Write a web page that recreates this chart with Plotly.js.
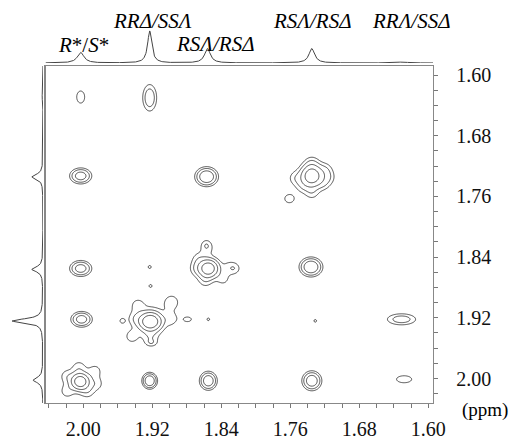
<!DOCTYPE html>
<html><head><meta charset="utf-8">
<script src="https://cdn.plot.ly/plotly-3.0.1.min.js"></script>
<style>html,body{margin:0;padding:0;background:#fff}#chart{width:513px;height:439px}</style>
</head><body><div id="chart"></div>
<script>
// ---- 2D cross-peak list (F2 ppm, F1 ppm, amplitude, width F2, width F1) ----
const pkF2 = [2.003,1.923, 2.003,1.857,1.735,1.735, 1.735,1.7193,1.7159,1.722,1.735,1.7454,1.7541, 1.761,
  2.003,1.923,1.855,1.855, 1.8567,1.8298,1.8376,1.8689,1.8585,1.8663,1.8573,1.8237, 1.736,
  2.002,1.9223,1.9223, 1.8975,1.8979,1.944,1.9397,1.9371,1.9223, 1.955,1.879,1.922,1.921,1.855, 1.731,1.631,
  2.0035,2.0035, 1.9861,1.9844,2.0192,2.0052,2.0192,1.9948, 1.923,1.855,1.735,1.628];
const pkF1 = [1.629,1.630, 1.733,1.734,1.733,1.733, 1.7162,1.7251,1.735,1.7429,1.7548,1.7459,1.736, 1.763,
  1.855,1.853,1.855,1.855, 1.8283,1.854,1.8689,1.855,1.8708,1.8421,1.8233,1.855, 1.853,
  1.922,1.925,1.925, 1.8995,1.921,1.9448,1.921,1.9032,1.9458, 1.924,1.922,1.878,1.953,1.922, 1.924,1.922,
  2.004,2.004, 1.9901,2.007,2.0169,1.9852,1.9971,2.0169, 2.003,2.003,2.003,2.001];
const pkAmp = [1.5,3.5, 6,8,12,1.5, 1.3,1.4,1.35,1.2,1.35,1.2,1.35, 1.4,
  6,1.1,12,1.5, 1.25,1.3,1.15,1.2,1.2,1.1,1.1,1.1, 8,
  6,14,1.7, 1.6,1.3,1.35,1.25,1.25,1.25, 1.15,1.3,1.1,1.15,1.1, 1.1,3,
  12,1.6, 1.35,1.3,1.35,1.25,1.3,1.25, 8,7,7,1.5];
const pkWF2 = [0.0051,0.0051, 0.0068,0.0068,0.0070,0.0116, 0.0058,0.0058,0.0058,0.0058,0.0058,0.0058,0.0058, 0.0064,
  0.0068,0.0040,0.0064,0.0116, 0.0058,0.0058,0.0058,0.0058,0.0058,0.0058,0.0040,0.0046, 0.0068,
  0.0066,0.0070,0.0139, 0.0068,0.0058,0.0058,0.0058,0.0058,0.0058, 0.0035,0.0058,0.0035,0.0046,0.0035, 0.0035,0.0110,
  0.0058,0.0104, 0.0058,0.0058,0.0058,0.0058,0.0058,0.0058, 0.0045,0.0053,0.0059,0.0097];
const pkWF1 = [0.0088,0.0110, 0.0056,0.0065,0.0079,0.0132, 0.0066,0.0066,0.0066,0.0066,0.0066,0.0066,0.0066, 0.0064,
  0.0056,0.0045,0.0066,0.0118, 0.0066,0.0066,0.0066,0.0066,0.0066,0.0066,0.0046,0.0053, 0.0065,
  0.0055,0.0066,0.0158, 0.0078,0.0066,0.0066,0.0066,0.0066,0.0066, 0.0040,0.0040,0.0040,0.0033,0.0040, 0.0040,0.0049,
  0.0059,0.0118, 0.0066,0.0066,0.0066,0.0066,0.0066,0.0066, 0.0055,0.0064,0.0067,0.0051];

// ---- 1D projections (peak ppm, relative height, half width) ----
const topPpm = [2.003, 1.923, 1.856, 1.735, 1.630];
const topHeight = [0.33, 1.0, 0.45, 0.45, 0.03];
const topHw = [0.0046, 0.0029, 0.0040, 0.0040, 0.0070];
const leftPpm = [1.629, 1.734, 1.856, 1.924, 2.002];
const leftHeight = [0.03, 0.36, 0.36, 1.0, 0.32];
const leftHw = [0.0060, 0.0040, 0.0040, 0.0033, 0.0042];

// ---- labels ----
const xTickVals = [2.00, 1.92, 1.84, 1.76, 1.68, 1.60];
const xTickText = ["2.00", "1.92", "1.84", "1.76", "1.68", "1.60"];
const yTickVals = [1.60, 1.68, 1.76, 1.84, 1.92, 2.00];
const yTickText = ["1.60", "1.68", "1.76", "1.84", "1.92", "2.00"];
const peakLabels = ["<i>R</i>*/<i>S</i>*", "<i>RR\u0394/SS\u039B</i>", "<i>RS\u039B/RS\u0394</i>", "<i>RS\u039B/RS\u0394</i>", "<i>RR\u039B/SS\u0394</i>"];
const unitLabel = "(ppm)";

// ---- build grid ----
const X0 = 2.0438, X1 = 1.5945, Y0 = 1.5881, Y1 = 2.0323;
const nx = 520, ny = 460;
const gx = [], gy = [];
for (let i = 0; i < nx; i++) gx.push(X1 + (X0 - X1) * i / (nx - 1));
for (let j = 0; j < ny; j++) gy.push(Y0 + (Y1 - Y0) * j / (ny - 1));
const I = [];
for (let j = 0; j < ny; j++) I.push(new Float64Array(nx));
for (let k = 0; k < pkF2.length; k++) {
  const cx = pkF2[k], cy = pkF1[k], a = pkAmp[k], sx = pkWF2[k], sy = pkWF1[k];
  for (let j = 0; j < ny; j++) {
    const dy = (gy[j] - cy) / sy;
    if (Math.abs(dy) > 5) continue;
    const ey = Math.exp(-0.5 * dy * dy);
    const row = I[j];
    for (let i = 0; i < nx; i++) {
      const dx = (gx[i] - cx) / sx;
      if (Math.abs(dx) > 5) continue;
      row[i] += a * ey * Math.exp(-0.5 * dx * dx);
    }
  }
}
const z = I.map(r => Array.from(r, v => Math.log2(v + 1e-9)));

// projections
const tx = [], ty = [];
for (let i = 0; i <= 900; i++) {
  const p = X0 + (X1 - X0) * i / 900;
  let v = 0;
  for (let k = 0; k < topPpm.length; k++) { const d = (p - topPpm[k]) / topHw[k]; v += topHeight[k] / (1 + d * d); }
  tx.push(p); ty.push(v);
}
const lx = [], ly = [];
for (let i = 0; i <= 900; i++) {
  const p = Y0 + (Y1 - Y0) * i / 900;
  let v = 0;
  for (let k = 0; k < leftPpm.length; k++) { const d = (p - leftPpm[k]) / leftHw[k]; v += leftHeight[k] / (1 + d * d); }
  ly.push(p); lx.push(v);
}

const W = 433, Hb = 403;
const px = v => v / W, py = v => (Hb - v) / Hb;
const lblPos = [[83, 45], [152, 21], [215, 44], [312, 21], [411, 21]];
const serif = 'Times New Roman';

const annotations = peakLabels.map((t, i) => ({
  text: t, xref: 'paper', yref: 'paper', x: px(lblPos[i][0]), y: py(lblPos[i][1]),
  xanchor: 'center', yanchor: 'middle', showarrow: false,
  font: {family: serif, size: 21, color: '#000'}
}));
annotations.push({text: unitLabel, xref: 'paper', yref: 'paper', x: px(485), y: py(410),
  xanchor: 'center', yanchor: 'middle', showarrow: false, font: {family: serif, size: 19, color: '#000'}});

const traces = [
  {type: 'contour', x: gx, y: gy, z: z, xaxis: 'x', yaxis: 'y',
   contours: {coloring: 'lines', start: 0, end: 3, size: 1},
   colorscale: [[0, '#262626'], [1, '#262626']],
   line: {color: '#262626', width: 0.8, smoothing: 1}, showscale: false, hoverinfo: 'skip'},
  {type: 'scatter', mode: 'lines', x: tx, y: ty, xaxis: 'x', yaxis: 'y2',
   line: {color: '#444', width: 1}, hoverinfo: 'skip'},
  {type: 'scatter', mode: 'lines', x: lx, y: ly, xaxis: 'x2', yaxis: 'y',
   line: {color: '#444', width: 1}, hoverinfo: 'skip'}
];

const tickFont = {family: serif, size: 20, color: '#111'};
const layout = {
  width: 513, height: 439, margin: {l: 0, r: 80, t: 0, b: 36},
  font: {family: serif},
  paper_bgcolor: '#fff', plot_bgcolor: 'rgba(0,0,0,0)', showlegend: false,
  xaxis: {domain: [45.5 / W, 1], range: [X0, X1], anchor: 'y',
    tickmode: 'array', tickvals: xTickVals, ticktext: xTickText,
    ticks: 'outside', ticklen: 4, tickcolor: '#777', tickwidth: 1,
    minor: {tickmode: 'linear', tick0: 1.60, dtick: 0.02, ticks: 'outside', ticklen: 4, tickcolor: '#777'},
    showline: true, linecolor: '#888', linewidth: 1.2, mirror: true,
    showgrid: false, zeroline: false, tickfont: tickFont, ticklabelstandoff: 4},
  yaxis: {domain: [0, 337 / Hb], range: [Y1, Y0], anchor: 'x', side: 'right',
    tickmode: 'array', tickvals: yTickVals, ticktext: yTickText,
    ticks: 'outside', ticklen: 4, tickcolor: '#777', tickwidth: 1,
    minor: {tickmode: 'linear', tick0: 1.60, dtick: 0.02, ticks: 'outside', ticklen: 4, tickcolor: '#777'},
    showline: true, linecolor: '#888', linewidth: 1.2, mirror: true,
    showgrid: false, zeroline: false, tickfont: tickFont, ticklabelstandoff: 14},
  xaxis2: {domain: [0, 43 / W], range: [1.39, 0], anchor: 'y', visible: false, fixedrange: true},
  yaxis2: {domain: [340 / Hb, 1], range: [0, 1.97], anchor: 'x', visible: false, fixedrange: true},
  annotations: annotations
};
Plotly.newPlot('chart', traces, layout, {displayModeBar: false, staticPlot: true});
</script></body></html>
